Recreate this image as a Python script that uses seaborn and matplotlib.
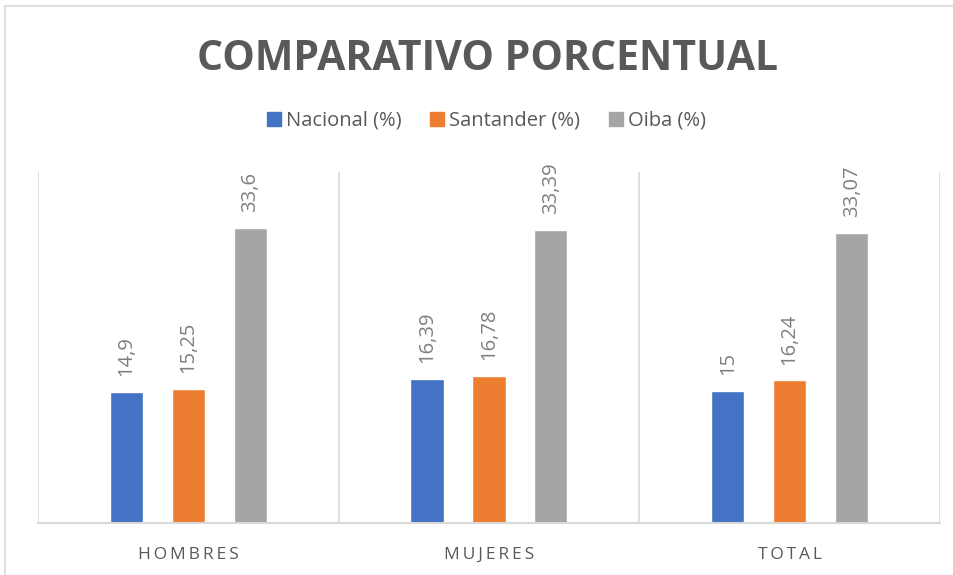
import pandas as pd
import matplotlib.pyplot as plt
import seaborn as sns
from matplotlib.patches import Rectangle

# ------------------------------------------
# Data
# ------------------------------------------
categorias = ["HOMBRES", "MUJERES", "TOTAL"]
series = ["Nacional (%)", "Santander (%)", "Oiba (%)"]
nacional = [14.9, 16.39, 15.0]
santander = [15.25, 16.78, 16.24]
oiba = [33.6, 33.39, 33.07]
colores = ["#4472C4", "#ED7D31", "#A5A5A5"]

df = pd.DataFrame({
    "categoria": categorias * 3,
    "serie": [s for s in series for _ in categorias],
    "valor": nacional + santander + oiba,
})

# ------------------------------------------
# Style
# ------------------------------------------
sns.set_style("white")
plt.rcParams["font.family"] = ["Open Sans", "DejaVu Sans"]

fig = plt.figure(figsize=(9.54, 5.75), dpi=100)
ax = fig.add_axes([0.0398, 0.0904, 0.9455, 0.6105])

sns.barplot(
    data=df, x="categoria", y="valor", hue="serie",
    palette=colores, width=0.618, gap=0.466,
    saturation=1, ax=ax
)

# data labels
for cont in ax.containers:
    etiquetas = [f"{b.get_height():g}".replace(".", ",") for b in cont]
    ax.bar_label(cont, labels=etiquetas, rotation=90, padding=11.5,
                 fontsize=14.5, color="#7F7F7F")

ax.set_ylim(0, 40)
ax.set_xlim(-0.5, 2.5)
ax.set_yticks([])
ax.set_xlabel("")
ax.set_ylabel("")

# separators between categories
for x in [-0.5, 0.5, 1.5, 2.5]:
    ax.axvline(x, color="#D9D9D9", lw=1.2, zorder=0)

for s in ["top", "left", "right"]:
    ax.spines[s].set_visible(False)
ax.spines["bottom"].set_color("#D9D9D9")
ax.spines["bottom"].set_linewidth(1.5)

ax.set_xticks(range(len(categorias)))
ax.set_xticklabels(["\u2009".join(c) for c in categorias],
                   fontsize=12.5, color="#595959")
ax.tick_params(axis="x", length=0, pad=17)

# legend above plot
ax.get_legend().remove()
handles = [Rectangle((0, 0), 1, 1, color=c) for c in colores]
fig.legend(handles, series, loc="center", bbox_to_anchor=(0.51, 0.79),
           ncol=3, frameon=False, fontsize=14.5, labelcolor="#595959",
           handlelength=0.7, handleheight=0.7, handletextpad=0.25,
           columnspacing=1.4)

fig.suptitle("COMPARATIVO PORCENTUAL", x=0.511, y=0.932, fontsize=29.5,
             fontweight="bold", color="#595959")

# chart frame
fig.patches.append(Rectangle((5 / 954, -0.01), 1.0, 1 - 6 / 575 + 0.01,
                             transform=fig.transFigure, fill=False,
                             edgecolor="#D9D9D9", lw=1.2))

fig.savefig("out.png", dpi=100, facecolor="white")
